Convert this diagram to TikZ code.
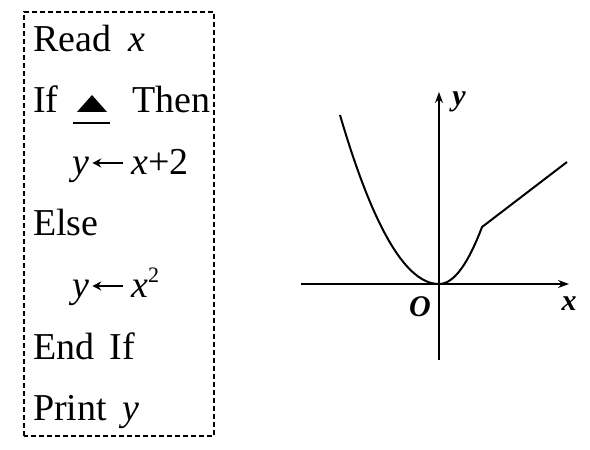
\documentclass[tikz,border=0pt]{standalone}
\usepackage{fontspec}
\setmainfont{Liberation Serif}
\usetikzlibrary{arrows.meta}
\tikzset{
  code/.style={anchor=base west, inner sep=0pt, font=\fontsize{38}{44}\selectfont},
  assign/.style={line width=1.3pt, -{Stealth[length=9pt,width=9pt,inset=3pt]}},
  axislbl/.style={inner sep=0pt, font=\fontsize{30}{34}\selectfont\bfseries\itshape},
  axis/.style={line width=1.5pt, -{Stealth[length=11pt,width=8pt]}},
  curve/.style={line width=2pt, line join=round},
  frame/.style={line width=1.4pt, dash pattern=on 5pt off 3pt}
}
\begin{document}
\begin{tikzpicture}[x=1pt,y=1pt]
\useasboundingbox (0,0) rectangle (590,450);
% program box
\draw[frame] (24,14) rectangle (214,438);
\node[code] (l1) at (33,398) {Read\hspace{0.45em}\textit{x}};
\node[code] (l2a) at (33,337) {If};
\node[code] (l2b) at (132,337) {Then};
\fill (77,338) -- (92,355) -- (107,338) -- cycle;
\draw[line width=1.2pt] (73,327) -- (110,327);
\node[code] (l3y) at (72,275) {\textit{y}};
\node[code] (l3x) at (131,275) {\textit{x}+2};
\draw[assign] ([xshift=-8pt,yshift=12pt]l3x.base west) -- ([xshift=3pt,yshift=12pt]l3y.base east);
\node[code] (l4) at (33,214) {Else};
\node[code] (l5y) at (72,152) {\textit{y}};
\node[code] (l5x) at (131,152) {\textit{x}\raisebox{15pt}{\fontsize{22}{24}\selectfont 2}};
\draw[assign] ([xshift=-8pt,yshift=12pt]l5x.base west) -- ([xshift=3pt,yshift=12pt]l5y.base east);
\node[code] (l6) at (33,90) {End\hspace{0.4em}If};
\node[code] (l7) at (33,29) {Print\hspace{0.4em}\textit{y}};
% graph
\coordinate (O) at (439,166);
\coordinate (xs) at (301,166);
\coordinate (xe) at (569,166);
\coordinate (ys) at (439,90);
\coordinate (ye) at (439,358);
\draw[axis] (xs) -- (xe);
\draw[axis] (ys) -- (ye);
\node[axislbl] (ylbl) at (459,348) {y};
\node[axislbl] (olbl) at (420,143) {O};
\node[axislbl] (xlbl) at (569,146) {x};
\coordinate (kink) at (482,223);
\coordinate (tip) at (567,288);
\draw[curve] plot[domain=-99:0, samples=60] ({439+\x}, {166+0.01724*\x*\x})
  -- plot[domain=0:43, samples=40] ({439+\x}, {166+0.0308*\x*\x}) -- (tip);
\end{tikzpicture}
\end{document}
